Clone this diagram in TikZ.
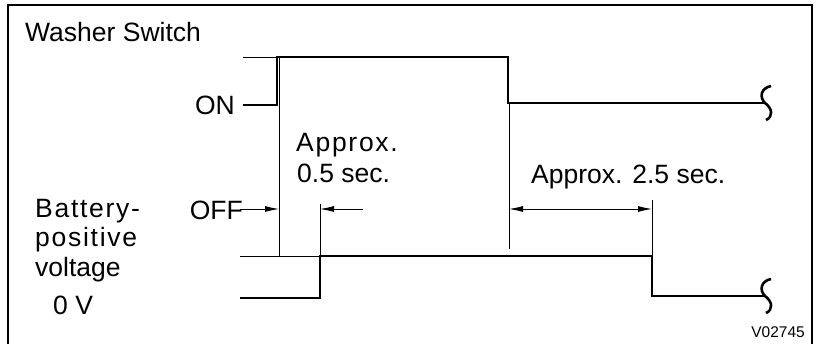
\documentclass[tikz,border=0pt]{standalone}
\usepackage{fontspec}
\setmainfont{Liberation Sans}
\newfontfamily\spacedfont[LetterSpace=6.5]{Liberation Sans}
\usetikzlibrary{arrows.meta}

\tikzset{
  sig/.style={line width=2.6pt},
  aux/.style={line width=0.9pt},
  dim/.style={aux,-{Latex[length=14pt,width=6pt]}},
  dimboth/.style={aux,{Latex[length=14pt,width=6pt]}-{Latex[length=14pt,width=6pt]}},
  lbl/.style={inner sep=0pt,font=\fontsize{26.5}{31}\selectfont},
  lineend/.pic={\draw[sig] (6,-17) .. controls (-4,-15) and (-6,-6) .. (0,0) .. controls (8,6) and (8,14) .. (1,17);}
}

\begin{document}
\begin{tikzpicture}[x=1pt,y=-1pt]
        \useasboundingbox (0,0) rectangle (820,344);
        \draw[line width=1.8pt] (8,344) -- (8,5) -- (812,5) -- (812,344);
        % washer switch
        \coordinate (sw0) at (243,105);
        \coordinate (sw1) at (277,105);
        \coordinate (sw2) at (277,57);
        \coordinate (sw3) at (508,57);
        \coordinate (sw4) at (508,103);
        \coordinate (sw5) at (765,103);
        \coordinate (swoff) at (243,57);
        \draw[sig] (sw0) -- (sw1) -- (sw2) -- (sw3) -- (sw4) -- (sw5);
        \draw[aux] (swoff) -- (sw2);
        \pic at (sw5) {lineend};
        % battery voltage
        \coordinate (bv0) at (240,298);
        \coordinate (bv1) at (320,298);
        \coordinate (bv2) at (320,256);
        \coordinate (bv3) at (652,256);
        \coordinate (bv4) at (652,296);
        \coordinate (bv5) at (765,296);
        \coordinate (bvhi) at (240,256);
        \draw[sig] (bv0) -- (bv1) -- (bv2) -- (bv3) -- (bv4) -- (bv5);
        \draw[aux] (bvhi) -- (bv2);
        \pic at (bv5) {lineend};
        % extension lines
        \coordinate (ea) at (279,57);   \coordinate (eb) at (279,256);
        \coordinate (ec) at (320,204);
        \coordinate (ed) at (509,103);  \coordinate (ee) at (509,249);
        \coordinate (ef) at (652,200);
        \draw[aux] (ea) -- (eb);
        \draw[aux] (ec) -- (bv2);
        \draw[aux] (ed) -- (ee);
        \draw[aux] (ef) -- (bv3);
        % timing arrows
        \coordinate (da0) at (240,209); \coordinate (da1) at (279,209);
        \coordinate (db0) at (363,209); \coordinate (db1) at (320,209);
        \coordinate (dc0) at (509,209); \coordinate (dc1) at (652,209);
        \draw[dim] (da0) -- (da1);
        \draw[dim] (db0) -- (db1);
        \draw[dimboth] (dc0) -- (dc1);
        % labels
        \node[lbl,anchor=base west] (title) at (25,42) {Washer Switch};
        \node[lbl,anchor=base east] (on) at (235,115) {ON};
        \node[lbl,anchor=base east] (off) at (243,220) {OFF};
        \node[lbl,anchor=base west] (t1a) at (296,152) {\spacedfont Approx.};
        \node[lbl,anchor=base west] (t1b) at (297,183) {0.5 sec.};
        \node[lbl,anchor=base west] (t2) at (531,184) {Approx. 2.5 sec.};
        \node[lbl,anchor=base west] (bat) at (35,218) {\spacedfont Battery-};
        \node[lbl,anchor=base west] (pos) at (35,247) {\spacedfont positive};
        \node[lbl,anchor=base west] (volt) at (35,277) {voltage};
        \node[lbl,anchor=base west] (zero) at (53,315) {0 V};
        \node[inner sep=0pt,font=\fontsize{15.5}{18}\selectfont,anchor=base east] (code) at (805,338) {V02745};
\end{tikzpicture}
\end{document}
